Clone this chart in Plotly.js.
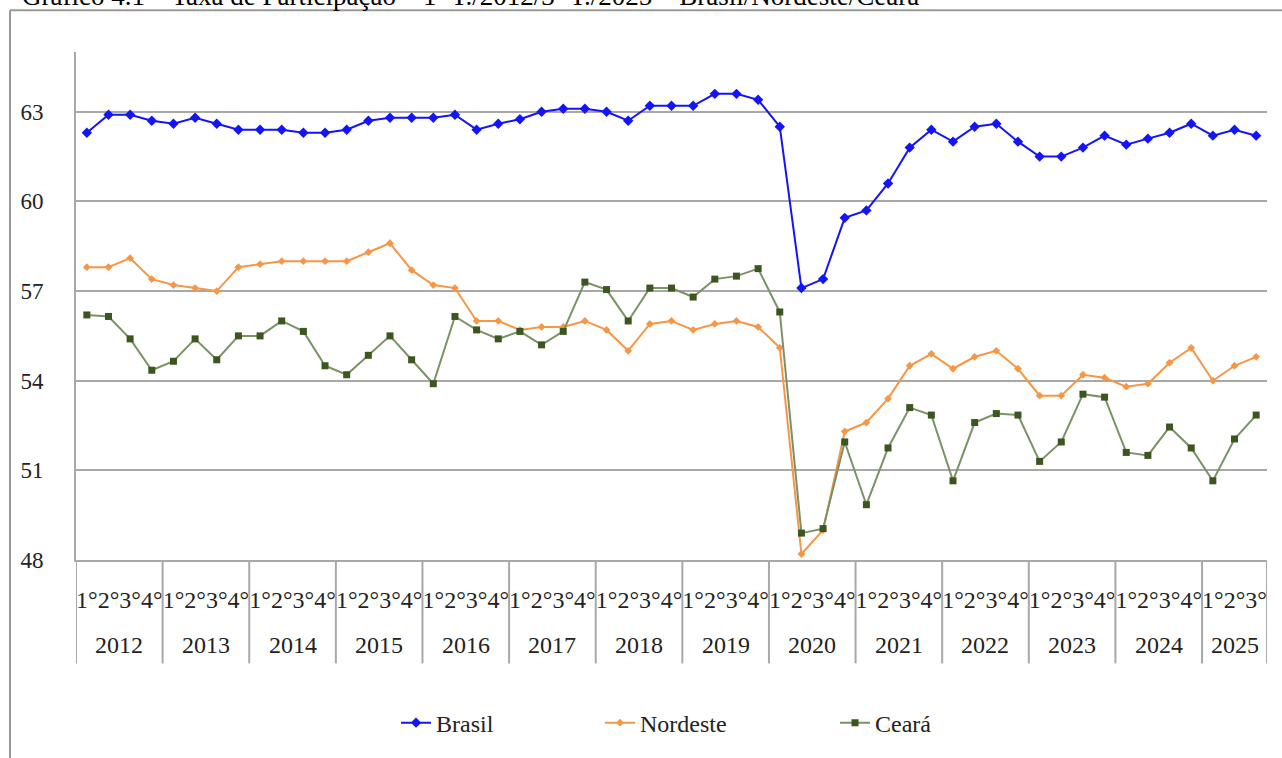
<!DOCTYPE html>
<html>
<head>
<meta charset="utf-8">
<script src="https://cdn.plot.ly/plotly-3.0.1.min.js"></script>
<style>
  html, body { margin: 0; padding: 0; background: #ffffff; }
  #chart { width: 1282px; height: 758px; }
</style>
</head>
<body>
<div id="chart"></div>
<script>
// ---- Data ----
const years = ['2012','2013','2014','2015','2016','2017','2018','2019','2020','2021','2022','2023','2024','2025'];
const quarterNames = ['1°','2°','3°','4°'];
const quartersPerYear = [4,4,4,4,4,4,4,4,4,4,4,4,4,3];

const brasil = [
  62.3, 62.9, 62.9, 62.7,
  62.6, 62.8, 62.6, 62.4,
  62.4, 62.4, 62.3, 62.3,
  62.4, 62.7, 62.8, 62.8,
  62.8, 62.9, 62.4, 62.6,
  62.75, 63.0, 63.1, 63.1,
  63.0, 62.7, 63.2, 63.2,
  63.2, 63.6, 63.6, 63.4,
  62.5, 57.1, 57.4, 59.45,
  59.7, 60.6, 61.8, 62.4,
  62.0, 62.5, 62.6, 62.0,
  61.5, 61.5, 61.8, 62.2,
  61.9, 62.1, 62.3, 62.6,
  62.2, 62.4, 62.2
];
const nordeste = [
  57.8, 57.8, 58.1, 57.4,
  57.2, 57.1, 57.0, 57.8,
  57.9, 58.0, 58.0, 58.0,
  58.0, 58.3, 58.6, 57.7,
  57.2, 57.1, 56.0, 56.0,
  55.7, 55.8, 55.8, 56.0,
  55.7, 55.0, 55.9, 56.0,
  55.7, 55.9, 56.0, 55.8,
  55.1, 48.2, 49.0, 52.3,
  52.6, 53.4, 54.5, 54.9,
  54.4, 54.8, 55.0, 54.4,
  53.5, 53.5, 54.2, 54.1,
  53.8, 53.9, 54.6, 55.1,
  54.0, 54.5, 54.8
];
const ceara = [
  56.2, 56.15, 55.4, 54.35,
  54.65, 55.4, 54.7, 55.5,
  55.5, 56.0, 55.65, 54.5,
  54.2, 54.85, 55.5, 54.7,
  53.9, 56.15, 55.7, 55.4,
  55.65, 55.2, 55.65, 57.3,
  57.05, 56.0, 57.1, 57.1,
  56.8, 57.4, 57.5, 57.75,
  56.3, 48.9, 49.05, 51.95,
  49.85, 51.75, 53.1, 52.85,
  50.65, 52.6, 52.9, 52.85,
  51.3, 51.95, 53.55, 53.45,
  51.6, 51.5, 52.45, 51.75,
  50.65, 52.05, 52.85
];
const yTicks = [48, 51, 54, 57, 60, 63];
const titleText = 'Gráfico 4.1 – Taxa de Participação – 1º T./2012/3º T./2025 – Brasil/Nordeste/Ceará';

// ---- Build category positions ----
const xIdx = [];
const xLabels = [];
const yearStart = [];
let k = 0;
years.forEach((y, yi) => {
  yearStart.push(k);
  for (let q = 0; q < quartersPerYear[yi]; q++) {
    xIdx.push(k);
    xLabels.push(quarterNames[q]);
    k++;
  }
});
const nCat = k;

const FONT = 'Liberation Serif';
const GRID = '#a8a8a8';

const traces = [
  {
    x: xIdx, y: brasil, name: 'Brasil', type: 'scatter', mode: 'lines+markers',
    line: {color: '#1414f8', width: 2},
    marker: {symbol: 'diamond', size: 8, color: '#1414f8'},
    legend: 'legend'
  },
  {
    x: xIdx, y: nordeste, name: 'Nordeste', type: 'scatter', mode: 'lines+markers',
    line: {color: '#f79646', width: 2},
    marker: {symbol: 'diamond', size: 6, color: '#f79646'},
    legend: 'legend2'
  },
  {
    x: xIdx, y: ceara, name: 'Ceará', type: 'scatter', mode: 'lines+markers',
    line: {color: '#7a9266', width: 2},
    marker: {symbol: 'square', size: 7, color: '#3b561f'},
    legend: 'legend3'
  }
];

// pixel helpers (plot area: x 76..1267, y 52..563)
const L = 76, R = 1267, T = 52, B = 563;
const px2paperX = p => (p - L) / (R - L);
const px2paperY = p => (B - p) / (B - T);

const shapes = [];
// outer frame (left and top)
shapes.push({type: 'line', xref: 'paper', yref: 'paper',
  x0: px2paperX(10), x1: px2paperX(10), y0: px2paperY(10), y1: px2paperY(800),
  line: {color: '#9a9a9a', width: 2}});
shapes.push({type: 'line', xref: 'paper', yref: 'paper',
  x0: px2paperX(10), x1: px2paperX(1300), y0: px2paperY(10), y1: px2paperY(10),
  line: {color: '#9a9a9a', width: 2}});
// category dividers
const divY = px2paperY(667);
yearStart.concat([nCat]).forEach(s => {
  shapes.push({type: 'line', xref: 'x', yref: 'paper',
    x0: s - 0.5, x1: s - 0.5, y0: 0, y1: divY,
    line: {color: GRID, width: 2}});
});

const annotations = [];
years.forEach((y, yi) => {
  const c = yearStart[yi] + (quartersPerYear[yi] - 1) / 2;
  annotations.push({xref: 'x', yref: 'paper', x: c, y: px2paperY(648),
    text: y, showarrow: false, xanchor: 'center', yanchor: 'middle',
    font: {family: FONT, size: 24, color: '#222'}});
});
annotations.push({xref: 'paper', yref: 'paper', x: px2paperX(20), y: px2paperY(13),
  text: titleText, showarrow: false, xanchor: 'left', yanchor: 'bottom',
  font: {family: FONT, size: 27, color: '#000'}});

const legendBase = {orientation: 'h', yanchor: 'middle', xanchor: 'left',
  y: px2paperY(727), bgcolor: 'rgba(0,0,0,0)',
  font: {family: FONT, size: 24, color: '#222'}};

const layout = {
  width: 1282, height: 758,
  margin: {l: L, r: 1282 - R, t: T, b: 758 - B, pad: 0},
  paper_bgcolor: '#ffffff', plot_bgcolor: '#ffffff',
  font: {family: FONT, color: '#222'},
  xaxis: {
    range: [-0.5, nCat - 0.5], tickvals: xIdx, ticktext: xLabels, tickangle: 0,
    showgrid: false, zeroline: false, showline: true, linecolor: GRID, linewidth: 2,
    ticks: '', tickfont: {family: FONT, size: 24, color: '#222'}, ticklabelstandoff: 17,
    fixedrange: true
  },
  yaxis: {
    range: [48, 65], tickvals: yTicks, ticktext: yTicks.map(String),
    showgrid: true, gridcolor: GRID, gridwidth: 2, zeroline: false,
    showline: true, linecolor: GRID, linewidth: 2, ticks: '',
    tickfont: {family: FONT, size: 23, color: '#222'}, ticklabelstandoff: 26,
    fixedrange: true
  },
  showlegend: true,
  legend: Object.assign({}, legendBase, {x: px2paperX(396)}),
  legend2: Object.assign({}, legendBase, {x: px2paperX(600)}),
  legend3: Object.assign({}, legendBase, {x: px2paperX(835)}),
  shapes: shapes,
  annotations: annotations
};

Plotly.newPlot('chart', traces, layout, {displayModeBar: false, staticPlot: true});
</script>
</body>
</html>
